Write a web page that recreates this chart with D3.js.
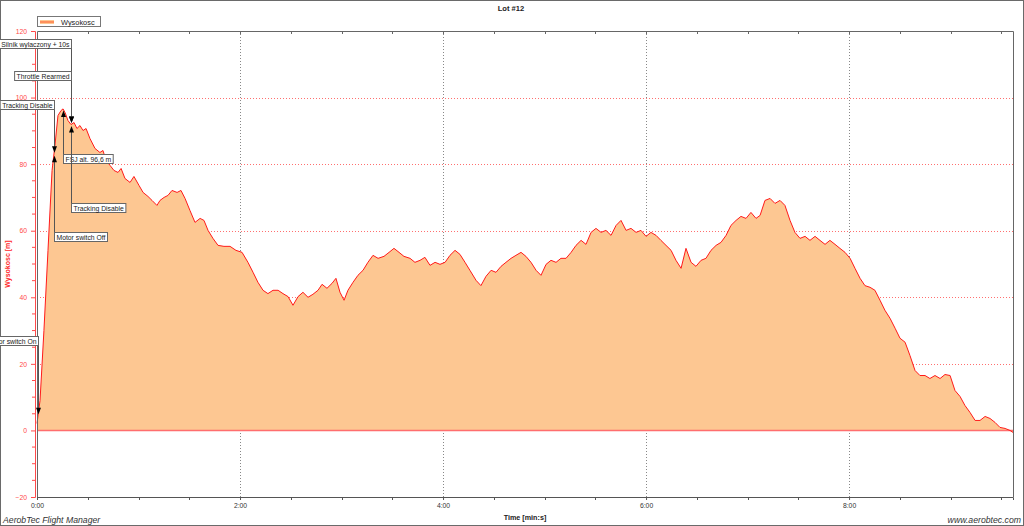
<!DOCTYPE html>
<html><head><meta charset="utf-8">
<script src="https://cdn.jsdelivr.net/npm/d3@7"></script>
<style>
html,body{margin:0;padding:0;background:#fff;}
svg{display:block;font-family:"Liberation Sans",Arial,sans-serif;}
</style></head>
<body><svg id="c" width="1024" height="526"></svg>
<script>
// ---- data ----
const chartTitle = "Lot #12";
const seriesName = "Wysokosc";
const yAxisTitle = "Wysokosc [m]";
const xAxisTitle = "Time [min:s]";
const footerLeft = "AerobTec Flight Manager";
const footerRight = "www.aerobtec.com";
const timeSec = [0,1.8,4.1,6.5,8.9,10.6,12.4,14.2,15.4,16.6,18.3,20.1,21.9,23.6,25.4,27.2,29.0,31.3,34.3,37.2,39.0,40.8,43.2,45.5,47.9,49.7,52.0,55.0,57.3,60.3,62.7,65.6,68.0,70.9,72.7,75.1,77.4,79.8,82.8,85.1,87.5,90.4,93.4,96.4,98.7,101.1,104.0,107.0,110.5,114.1,117.6,121.2,124.7,127.7,130.6,133.6,136.5,139.5,142.5,145.4,148.4,151.3,154.3,157.2,160.2,163.1,166.1,168.5,171.4,174.4,176.7,179.1,181.5,183.8,186.8,189.7,192.7,195.6,198.6,201.6,205.1,208.1,211.0,214.0,216.9,220.5,223.4,226.4,229.3,232.3,235.3,238.2,241.2,244.1,247.1,250.0,253.0,255.9,259.5,262.4,265.4,268.4,271.3,274.3,277.2,280.2,283.1,286.1,289.0,292.0,295.0,297.9,300.9,303.8,306.8,309.7,312.7,315.7,318.6,321.6,324.5,327.5,330.4,333.4,336.3,339.3,342.3,345.2,348.2,351.1,354.1,357.0,360.0,362.9,365.9,368.8,371.8,374.8,377.7,380.7,383.6,386.6,389.5,392.5,395.4,398.4,401.4,404.3,407.3,410.2,413.2,416.1,419.1,422.0,425.0,427.4,430.3,433.3,436.2,439.2,442.1,445.1,448.0,451.0,454.0,456.9,459.9,462.8,465.8,468.7,471.7,474.6,477.6,480.6,483.5,486.5,489.4,492.4,495.3,498.3,501.2,504.2,507.2,510.1,513.1,516.0,519.0,521.9,524.9,527.8,530.8,533.8,536.7,539.7,542.6,545.6,548.5,551.5,554.5,557.4,560.4,563.3,566.3,569.2,572.2,575.1,576.9];
const altitude = [2.1,9.0,30.0,54.1,78.1,85.6,94.6,96.1,96.6,95.5,93.1,91.9,92.5,90.7,91.6,90.1,90.7,87.7,84.7,83.5,84.1,81.1,79.6,78.1,77.5,78.7,75.7,74.5,76.3,73.6,71.5,70.3,69.1,67.6,69.1,70.0,70.6,72.1,71.5,72.1,69.7,66.1,62.5,63.7,63.1,60.1,57.7,55.6,55.3,55.3,54.1,53.5,50.5,47.5,44.5,42.1,41.1,42.1,42.1,41.1,40.2,37.6,40.2,41.5,40.0,40.9,42.1,43.9,42.7,44.2,45.7,41.5,39.1,42.1,44.5,46.6,48.1,50.5,52.6,51.7,52.3,53.5,54.7,53.5,52.3,51.7,50.5,51.1,52.0,49.6,50.5,49.9,50.5,52.6,54.1,52.9,50.5,48.1,45.1,43.5,46.3,48.1,47.5,49.3,50.5,51.7,52.6,53.5,52.3,50.5,48.1,46.6,49.9,51.1,50.5,51.7,51.7,53.5,55.6,57.1,55.9,59.5,60.7,59.5,60.1,58.6,61.6,63.1,60.1,60.7,59.5,60.1,58.3,59.5,58.6,57.1,55.6,54.1,51.1,48.7,54.7,50.5,49.3,51.1,51.7,54.1,55.6,56.5,58.6,61.6,63.1,64.3,63.7,65.5,63.7,64.6,69.1,69.7,68.2,69.1,67.6,63.1,59.5,57.7,58.3,57.1,58.3,57.1,55.9,57.1,55.9,54.7,53.5,51.7,48.7,45.7,43.5,43.0,42.1,39.1,36.1,33.7,30.7,27.7,26.5,22.5,18.0,16.5,16.5,15.6,16.5,15.6,16.8,16.5,12.0,10.2,7.5,5.4,3.0,3.0,4.2,3.6,2.4,0.9,0.6,0.0,-0.6];
const xMajorTicks = [0,120,240,360,480];
const yMajorTicks = [-20,0,20,40,60,80,100,120];
const eventNames = ["Motor switch On","Tracking Disable","Motor switch Off","FSJ alt. 96,6 m","Silnik wylaczony + 10s","Throttle Rearmed","Tracking Disable"];
const eventTimes = [0.6,10.0,10.0,15.4,20.1,20.1,20.1];
const eventSide = ["above","above","below","below","above","above","below"];
// label top edge expressed in altitude units (layout)
const eventLabelAlt = [28.3,99.4,59.5,82.9,117.7,108.1,68.2];

// ---- chart ----
const svg = d3.select("#c");
const W=1024,H=526;
const L=37,R=1013,T=31,B=497;
const x = d3.scaleLinear().domain([0,576.9]).range([L,R]);
const y = d3.scaleLinear().domain([-20,120]).range([B,T]);
const data = timeSec.map((t,i)=>({t, a:altitude[i]}));
const fmt = s => Math.floor(s/60)+":"+String(Math.round(s%60)).padStart(2,"0");

svg.append("rect").attr("x",0.5).attr("y",0.5).attr("width",W-1).attr("height",H-1)
  .attr("fill","#fff").attr("stroke","#6a6a6a");

// title
svg.append("text").attr("x",511).attr("y",11).attr("text-anchor","middle")
  .attr("font-size",7.6).attr("font-weight","bold").attr("fill","#222").text(chartTitle);

// grid
const g = svg.append("g");
g.selectAll(".hg").data([20,40,60,80,100]).join("line")
  .attr("x1",L).attr("x2",R).attr("y1",d=>Math.round(y(d))+0.5).attr("y2",d=>Math.round(y(d))+0.5)
  .attr("stroke","#ff6f6f").attr("stroke-dasharray","1,2");
g.selectAll(".vg").data([120,240,360,480]).join("line")
  .attr("y1",T).attr("y2",B).attr("x1",d=>Math.round(x(d))+0.5).attr("x2",d=>Math.round(x(d))+0.5)
  .attr("stroke","#888").attr("stroke-dasharray","1,2");

// area & line
const area = d3.area().x(d=>x(d.t)).y0(y(0)).y1(d=>y(d.a));
const line = d3.line().x(d=>x(d.t)).y(d=>y(d.a));
svg.append("path").datum(data).attr("d",area).attr("fill","#fdc792");
svg.append("line").attr("x1",L).attr("x2",R).attr("y1",y(0)).attr("y2",y(0))
  .attr("stroke","#ff6e6e").attr("stroke-width",1.5);
svg.append("path").datum(data).attr("d",line).attr("fill","none").attr("stroke","#ff1a1a").attr("stroke-width",1);

// frame
svg.append("path").attr("d",`M${L+0.5},${B}V${T+0.5}H${R+0.5}V${B}`).attr("fill","none").attr("stroke","#666");
// top minor ticks
svg.append("g").selectAll("line").data(d3.range(30,577,30)).join("line")
  .attr("x1",d=>Math.round(x(d))+0.5).attr("x2",d=>Math.round(x(d))+0.5).attr("y1",T).attr("y2",T+3).attr("stroke","#666");

// bottom axis
const xa = svg.append("g").attr("transform",`translate(0,${B})`)
  .call(d3.axisBottom(x).tickValues(xMajorTicks).tickFormat(fmt).tickSize(3).tickPadding(3));
xa.select(".domain").attr("stroke","#555");
xa.selectAll(".tick line").attr("stroke","#555");
xa.selectAll("text").attr("font-size",6.8).attr("fill","#333").attr("font-family","Liberation Sans,Arial");
svg.append("g").selectAll("line").data(d3.range(30,577,30).filter(d=>d%120)).join("line")
  .attr("x1",d=>Math.round(x(d))+0.5).attr("x2",d=>Math.round(x(d))+0.5).attr("y1",B).attr("y2",B+3).attr("stroke","#555");
svg.append("text").attr("x",(L+R)/2).attr("y",520).attr("text-anchor","middle")
  .attr("font-size",7.2).attr("font-weight","bold").attr("fill","#222").text(xAxisTitle);

// y axis
const ya = svg.append("g").attr("transform",`translate(35,0)`)
  .call(d3.axisLeft(y).tickValues(yMajorTicks).tickSize(4).tickPadding(4));
ya.select(".domain").attr("stroke","#ff4a4a");
ya.selectAll(".tick line").attr("stroke","#ff4a4a");
ya.selectAll("text").attr("font-size",6.8).attr("fill","#ff4a4a").attr("font-family","Liberation Sans,Arial");
svg.append("g").selectAll("line").data(d3.range(-20,121,5).filter(d=>d%20)).join("line")
  .attr("x1",32).attr("x2",35).attr("y1",d=>y(d)).attr("y2",d=>y(d)).attr("stroke","#ff4a4a");
svg.append("text").attr("transform",`translate(10,${(T+B)/2}) rotate(-90)`).attr("text-anchor","middle")
  .attr("font-size",7).attr("font-weight","bold").attr("fill","#ff2a2a").text(yAxisTitle);

// legend
const lg = svg.append("g");
lg.append("rect").attr("x",37.5).attr("y",16.5).attr("width",63).attr("height",10).attr("fill","#fff").attr("stroke","#777");
lg.append("line").attr("x1",40).attr("x2",54).attr("y1",22).attr("y2",22).attr("stroke","#fdc792").attr("stroke-width",4);
lg.append("line").attr("x1",40).attr("x2",54).attr("y1",22).attr("y2",22).attr("stroke","#ff6a3a").attr("stroke-width",1.2);
lg.append("text").attr("x",61).attr("y",24.5).attr("font-size",7.4).attr("fill","#222").text(seriesName);

// annotations
const bis = d3.bisector(d=>d.t).left;
function altAt(t){
  const i = Math.max(1, Math.min(data.length-1, bis(data,t)));
  const a=data[i-1], b=data[i];
  return a.a + (b.a-a.a)*(t-a.t)/(b.t-a.t);
}
const an = svg.append("g");
eventNames.forEach((name,i)=>{
  const px = Math.round(x(eventTimes[i]))+0.5;
  const py = y(altAt(eventTimes[i]));
  const top = Math.round(y(eventLabelAlt[i]))+0.5;
  const h = 9;
  const above = eventSide[i]==="above";
  if(above){
    an.append("line").attr("x1",px).attr("x2",px).attr("y1",top+h).attr("y2",py-3).attr("stroke","#555");
    an.append("path").attr("d",`M${px-2.5},${py-8}L${px+2.5},${py-8}L${px},${py-1.5}Z`).attr("fill","#000");
  } else {
    an.append("line").attr("x1",px).attr("x2",px).attr("y1",py+3).attr("y2",top).attr("stroke","#555");
    an.append("path").attr("d",`M${px-2.5},${py+8}L${px+2.5},${py+8}L${px},${py+1.5}Z`).attr("fill","#000");
  }
  const gg = an.append("g");
  const rect = gg.append("rect").attr("y",top).attr("height",h).attr("fill","#fff").attr("stroke","#666");
  const tx = gg.append("text").attr("y",top+7).attr("font-size",6.8).attr("fill","#222").text(name);
  const w = tx.node().getComputedTextLength()+4;
  const left = above ? px - w : px;
  rect.attr("x",left).attr("width",w);
  tx.attr("x",left+2);
});

// footers
svg.append("text").attr("x",3).attr("y",523).attr("font-size",8.7).attr("font-style","italic").attr("fill","#333").text(footerLeft);
svg.append("text").attr("x",1021).attr("y",523).attr("text-anchor","end").attr("font-size",8.7).attr("font-style","italic").attr("fill","#333").text(footerRight);
</script></body></html>
